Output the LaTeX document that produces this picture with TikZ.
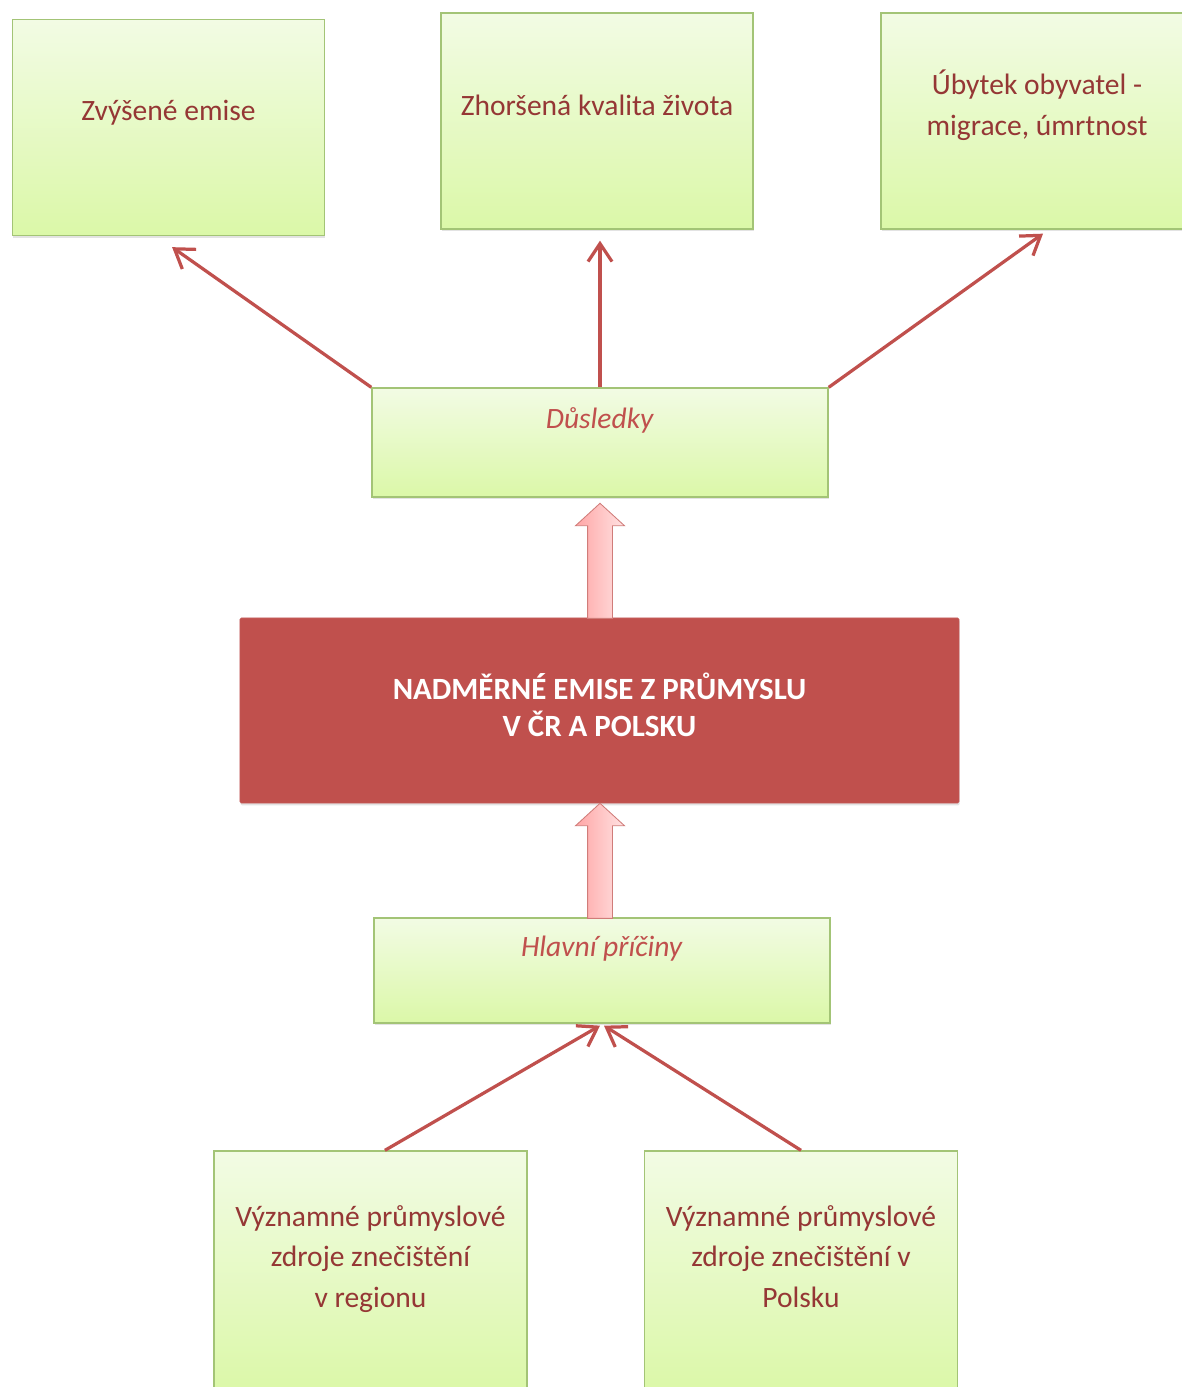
\documentclass[tikz,border=0pt]{standalone}
\usepackage{fontspec}
\setmainfont{Carlito}
\usepackage{tikz}
\usetikzlibrary{arrows.meta,shapes.arrows,shadows}

\definecolor{boxtop}{HTML}{F2FBE4}
\definecolor{boxbot}{HTML}{DBF8A8}
\definecolor{boxline}{HTML}{A3C476}
\definecolor{darkred}{HTML}{953735}
\definecolor{accent}{HTML}{C0504D}
\definecolor{pinktop}{HTML}{FFE2E2}
\definecolor{pinkbot}{HTML}{FFA6A6}

% text raised inside a box, without changing the box size
\newcommand{\boxtext}[2]{\raisebox{#1}[0pt][0pt]{\begin{tabular}{@{}c@{}}#2\end{tabular}}}

\begin{document}
\begin{tikzpicture}[x=0.025cm, y=-0.025cm,
  greenbox/.style={rectangle, draw=boxline, line width=0.9pt, top color=boxtop, bottom color=boxbot,
    inner sep=0pt, text=darkred, font=\fontsize{21}{29}\selectfont,
    drop shadow={shadow xshift=0.4pt, shadow yshift=-1.6pt, opacity=0.22}},
  topbox/.style={greenbox, minimum width=7.8cm, minimum height=5.4cm},
  lowbox/.style={greenbox, minimum width=7.825cm, minimum height=6.05cm},
  midbox/.style={greenbox, minimum width=11.4cm, text=accent},
  mainbox/.style={rectangle, fill=accent, draw=accent!90, inner sep=0pt, rounded corners=1pt,
    minimum width=17.975cm, minimum height=4.625cm, text=white, font=\fontsize{22}{26.5}\selectfont\bfseries,
    drop shadow={shadow xshift=0.4pt, shadow yshift=-1.6pt, opacity=0.22}},
  blockarrow/.style={single arrow, rotate=90, draw=accent!75, line width=0.6pt, left color=pinkbot, right color=pinktop,
    minimum height=2.875cm, inner xsep=0pt, inner ysep=0.3cm, single arrow head extend=0.3cm,
    single arrow tip angle=95},
  link/.style={-{Straight Barb[length=4.5mm, width=6mm]}, accent, line width=2.3pt}]

\useasboundingbox (0,0) rectangle (1182,1387);

\node[topbox] (emise) at (168.5,127.5) {\boxtext{0.2cm}{Zvýšené emise}};
\node[topbox] (kvalita) at (597,121) {\boxtext{0.15cm}{Zhoršená kvalita života}};
\node[topbox] (ubytek) at (1037,121) {\boxtext{0.18cm}{Úbytek obyvatel -\\migrace, úmrtnost}};

\node[midbox, minimum height=2.725cm] (dusledky) at (600,442.5) {\boxtext{0.38cm}{\textit{Důsledky}}};
\node[mainbox] (emisecr) at (599.5,710.5) {\boxtext{-0.18cm}{NADMĚRNÉ EMISE Z PRŮMYSLU\\V ČR A POLSKU}};
\node[midbox, minimum height=2.625cm] (priciny) at (602,970.5) {\boxtext{0.38cm}{\textit{Hlavní příčiny}}};

\node[lowbox] (region) at (370.5,1272) {\boxtext{0.15cm}{Významné průmyslové\\zdroje znečištění\\v regionu}};
\node[lowbox] (polsko) at (801,1272) {\boxtext{0.15cm}{Významné průmyslové\\zdroje znečištění v\\Polsku}};

\node[blockarrow] (up1) at (600,566.5) {};
\node[blockarrow] (up2) at (600,866.5) {};

\draw[link] (dusledky.north west) -- ([xshift=0.09cm, yshift=-0.275cm]emise.south);
\draw[link, shorten >=0.275cm] (dusledky.north) -- (dusledky.north |- kvalita.south);
\draw[link] (dusledky.north east) -- ([xshift=0.15cm, yshift=-0.1cm]ubytek.south);

\draw[link] ([xshift=0.36cm]region.north) -- ([xshift=-0.05cm, yshift=-0.05cm]priciny.south);
\draw[link] (polsko.north) -- ([xshift=0.05cm, yshift=-0.05cm]priciny.south);
\end{tikzpicture}
\end{document}
